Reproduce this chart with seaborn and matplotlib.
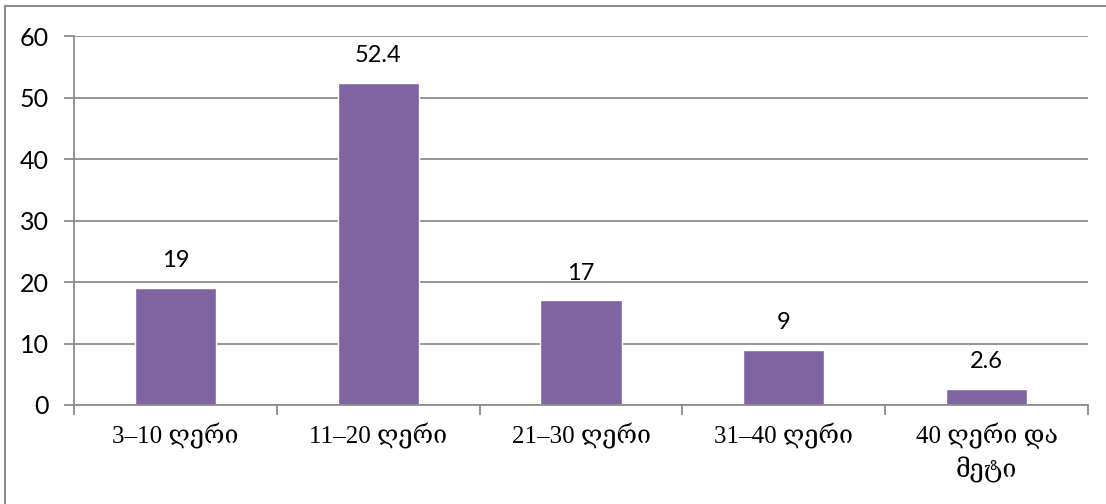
import matplotlib
matplotlib.use("Agg")
import matplotlib.pyplot as plt
from matplotlib.patches import Rectangle
import seaborn as sns
import pandas as pd

categories = ["3–10 ღერი", "11–20 ღერი", "21–30 ღერი", "31–40 ღერი", "40 ღერი და\nმეტი"]
values = [19, 52.4, 17, 9, 2.6]
y_ticks = [0, 10, 20, 30, 40, 50, 60]

sns.set_theme(style="white")
plt.rcParams["font.family"] = ["Lato", "DejaVu Sans"]

W, H = 1106, 504
fig = plt.figure(figsize=(W / 100, H / 100), dpi=100)
ax = fig.add_axes([74 / W, 1 - 405 / H, (1088 - 74) / W, (405 - 36) / H])

df = pd.DataFrame({"cat": categories, "val": values})
sns.barplot(data=df, x="cat", y="val", color="#8064A2", saturation=1,
            width=0.4, ax=ax, zorder=3)

ax.set_xlim(-0.5, len(categories) - 0.5)
ax.set_ylim(0, 60)
ax.set_yticks(y_ticks)
ax.set_xlabel("")
ax.set_ylabel("")

grid_c = "#8c8c8c"
ax.yaxis.grid(True, color=grid_c, linewidth=1.3, zorder=0)
ax.set_axisbelow(True)
for side in ["top", "right"]:
    ax.spines[side].set_visible(False)
for side in ["left", "bottom"]:
    ax.spines[side].set_color(grid_c)
    ax.spines[side].set_linewidth(1.3)
    ax.spines[side].set_zorder(4)

ax.tick_params(axis="y", which="major", left=True, length=7, width=1.3,
               color=grid_c, labelsize=18, pad=11, labelcolor="black")
ax.tick_params(axis="x", which="major", bottom=False, length=0, pad=13,
               labelcolor="black")
# separators between categories on the x axis
ax.set_xticks([i + 0.5 for i in range(-1, len(categories))], minor=True)
ax.tick_params(axis="x", which="minor", bottom=True, length=7, width=1.3,
               color=grid_c)

for lbl in ax.get_xticklabels():
    lbl.set_family(["Liberation Serif", "DejaVu Serif", "DejaVu Sans"])
    lbl.set_fontsize(18)
    lbl.set_linespacing(1.35)
    lbl.set_verticalalignment("top")

for container in ax.containers:
    ax.bar_label(container, labels=[f"{v:g}" for v in values], padding=12,
                 fontsize=17, color="black")

# outer chart frame
fig.patches.append(Rectangle((5 / W, -0.1), 1.2, 1 - 6 / H + 0.1,
                             transform=fig.transFigure, fill=False,
                             edgecolor="#8c8c8c", linewidth=1.5))

fig.savefig("out.png", dpi=100, facecolor="white")
